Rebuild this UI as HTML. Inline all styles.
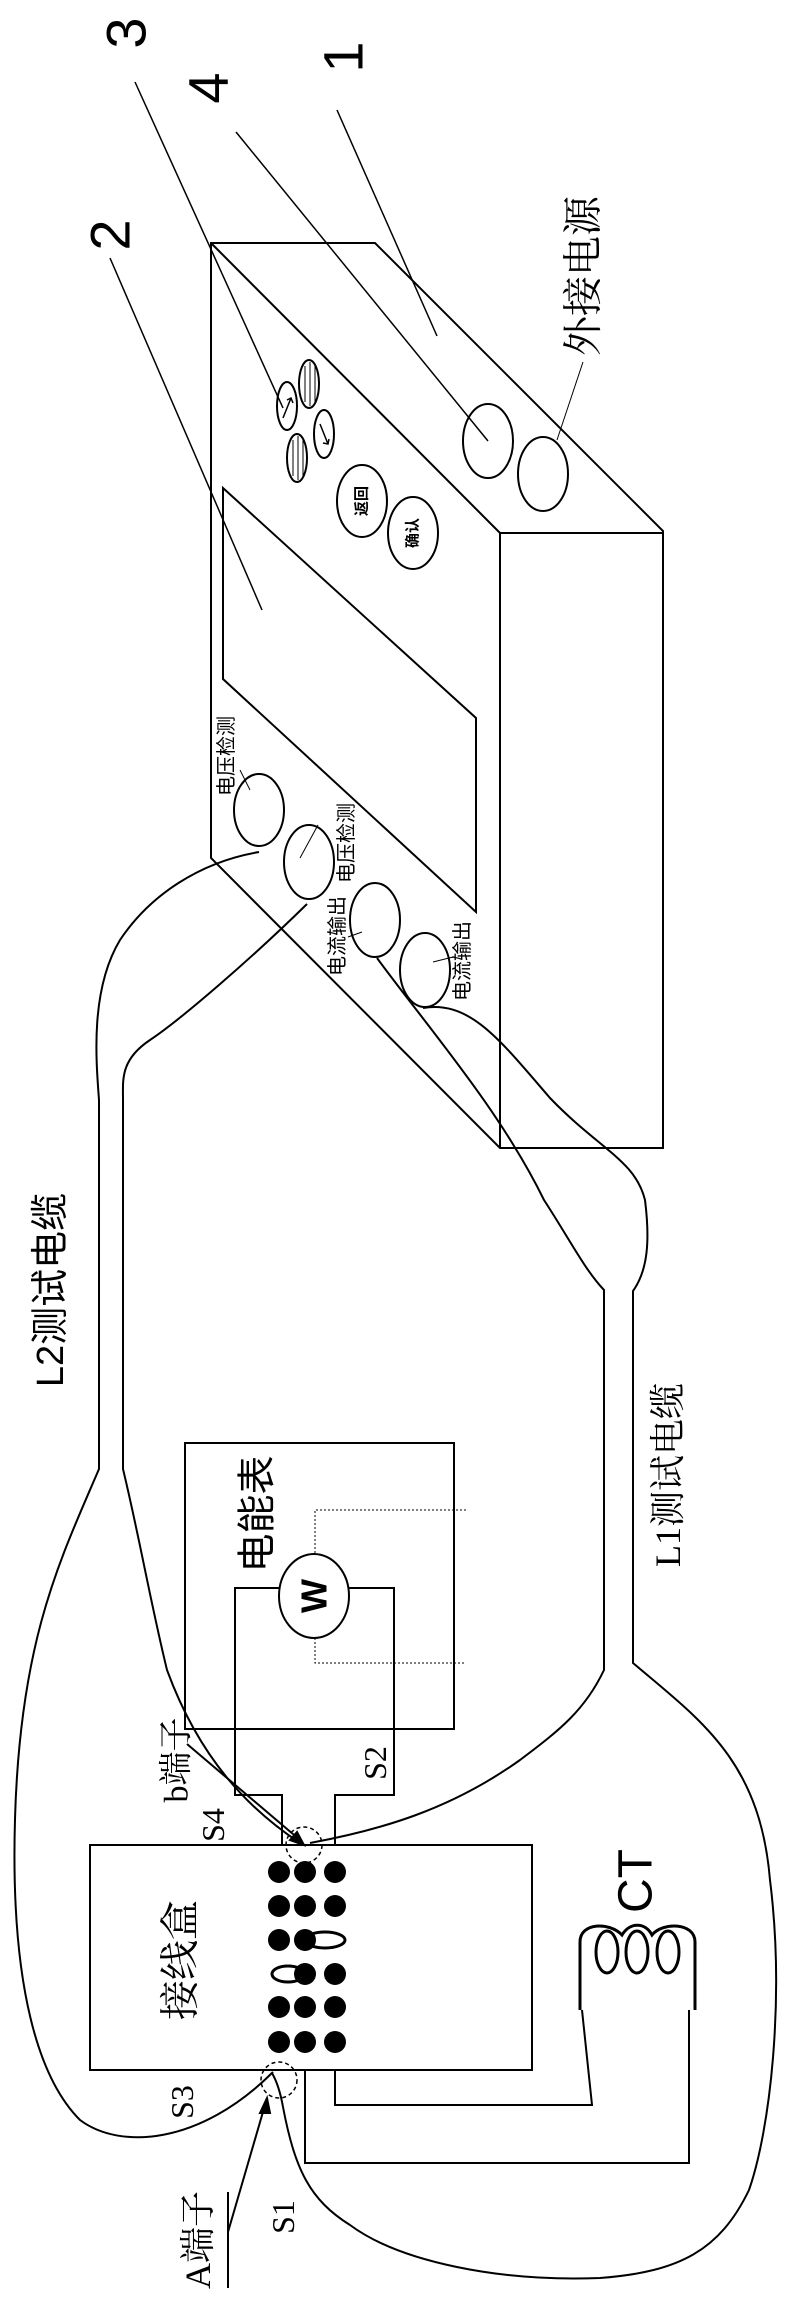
<!DOCTYPE html>
<html><head><meta charset="utf-8"><style>
html,body{margin:0;padding:0;background:#fff}
svg{display:block}
.s{font-family:"Liberation Sans","Noto Sans CJK SC",sans-serif}
.r{font-family:"Liberation Serif","Noto Serif CJK SC",serif}
</style></head><body>
<svg width="790" height="2309" viewBox="0 0 790 2309" xmlns="http://www.w3.org/2000/svg">
<g fill="none" stroke="#000" stroke-width="2">
<!-- instrument box -->
<polygon points="211,243 375,243 663,531 663,1148 500,1148 211,858"/>
<line x1="211" y1="243" x2="500" y2="533"/>
<line x1="500" y1="533" x2="663" y2="533"/>
<line x1="500" y1="533" x2="500" y2="1148"/>
<!-- screen -->
<polygon points="223,488 476,718 476,912 223,679"/>
<!-- leaders -->
<line x1="135" y1="82" x2="283" y2="408" stroke-width="1.5"/>
<line x1="236" y1="132" x2="488" y2="441" stroke-width="1.5"/>
<line x1="337" y1="110" x2="437" y2="336" stroke-width="1.5"/>
<line x1="110" y1="258" x2="262" y2="610" stroke-width="1.5"/>
<line x1="583" y1="362" x2="557" y2="440" stroke-width="1"/>
<!-- buttons -->
<ellipse cx="287" cy="406" rx="10" ry="24"/>
<ellipse cx="309" cy="384" rx="10" ry="24"/>
<ellipse cx="297" cy="458" rx="10" ry="24"/>
<ellipse cx="324" cy="434" rx="10" ry="24"/>
<line x1="305" y1="366" x2="305" y2="402" stroke-width="1"/><line x1="310" y1="362" x2="310" y2="406" stroke-width="1"/><line x1="315" y1="366" x2="315" y2="402" stroke-width="1"/>
<line x1="293" y1="440" x2="293" y2="476" stroke-width="1"/><line x1="298" y1="436" x2="298" y2="480" stroke-width="1"/><line x1="303" y1="440" x2="303" y2="476" stroke-width="1"/>
<path d="M283,418 L291,398 M287,400 L291,398 L293,403" stroke-width="1.5"/>
<path d="M320,424 L328,444 M323,443 L328,444 L329,439" stroke-width="1.5"/>
<ellipse cx="362" cy="501" rx="25" ry="36"/>
<ellipse cx="413" cy="533" rx="25" ry="36"/>
<ellipse cx="488" cy="441" rx="25" ry="37"/>
<ellipse cx="543" cy="474" rx="25" ry="37"/>
<!-- ports -->
<ellipse cx="259" cy="810" rx="25" ry="36"/>
<ellipse cx="309" cy="862" rx="25" ry="37"/>
<ellipse cx="375" cy="920" rx="25" ry="37"/>
<ellipse cx="425" cy="970" rx="25" ry="37"/>
<line x1="240" y1="770" x2="250" y2="790" stroke-width="1"/>
<line x1="318" y1="825" x2="300" y2="858" stroke-width="1"/>
<line x1="348" y1="937" x2="362" y2="932" stroke-width="1"/>
<line x1="453" y1="957" x2="433" y2="962" stroke-width="1"/>
<!-- L2 cable -->
<path d="M259,852 C200,862 150,895 120,940 C90,990 96,1060 99,1100 L99,1469 C60,1560 20,1640 15,1819 C10,1990 40,2080 80,2120 C120,2150 200,2145 273,2072"/>
<path d="M307,904 C250,960 180,1020 150,1040 C120,1060 123,1080 123,1100 L123,1469 C140,1540 150,1600 167,1670 C200,1760 250,1810 300,1843"/>
<!-- L1 cable -->
<path d="M377,958 C430,1030 500,1110 544,1200 C570,1240 585,1270 604,1290 L604,1670 C585,1710 560,1730 520,1760 C450,1810 380,1830 310,1843"/>
<path d="M423,1008 C470,1000 500,1040 550,1098 C600,1150 635,1160 645,1200 C650,1240 648,1270 633,1291 L633,1663 C700,1720 760,1760 770,1880 C785,2000 770,2130 749,2190 C720,2250 680,2272 600,2278 C500,2282 400,2262 350,2225 C310,2200 295,2170 283,2107 C280,2090 276,2080 272,2073"/>
<!-- meter -->
<rect x="185" y="1443" width="269" height="286"/>
<ellipse cx="314" cy="1596" rx="35" ry="42"/>
<path d="M279,1588 H235 V1795 H282 V1845"/>
<path d="M349,1588 H394 V1795 H335 V1845"/>
<path d="M466,1510 H315 V1554 M315,1638 V1663 H466" stroke-width="1" stroke-dasharray="2,2"/>
<!-- junction box -->
<rect x="90" y="1845" width="442" height="225"/>
<path d="M305,2070 V2163 H689 V2010"/>
<path d="M335,2070 V2105 H592 L582,2010"/>
<circle cx="304" cy="1845" r="18" stroke-dasharray="4,3" stroke-width="1.5"/>
<circle cx="279" cy="2080" r="18" stroke-dasharray="4,3" stroke-width="1.5"/>
<!-- b arrow -->
<line x1="187" y1="1744" x2="300" y2="1840"/>
<polygon points="304,1845 290,1840 297,1832" fill="#000"/>
<!-- A -->
<line x1="228" y1="2192" x2="228" y2="2288"/>
<line x1="228" y1="2232" x2="265" y2="2105"/>
<polygon points="267,2098 260,2113 270,2113" fill="#000"/>
<!-- CT coil -->
<path d="M580,2010 V1942 C580,1922 610,1922 622,1935 C630,1922 645,1922 652,1935 C662,1922 695,1922 695,1942 V2010" stroke-width="3"/>
<ellipse cx="607" cy="1952" rx="11" ry="21" stroke-width="3"/>
<ellipse cx="637" cy="1952" rx="11" ry="21" stroke-width="3"/>
<ellipse cx="668" cy="1952" rx="11" ry="21" stroke-width="3"/>
</g>
<!-- dots -->
<g fill="#000">
<circle cx="279" cy="1872" r="11"/><circle cx="305" cy="1872" r="11"/><circle cx="335" cy="1872" r="11"/>
<circle cx="279" cy="1906" r="11"/><circle cx="305" cy="1906" r="11"/><circle cx="335" cy="1906" r="11"/>
<circle cx="279" cy="1940" r="11"/><circle cx="305" cy="1940" r="11"/>
<circle cx="305" cy="1974" r="11"/><circle cx="335" cy="1974" r="11"/>
<circle cx="279" cy="2007" r="11"/><circle cx="305" cy="2007" r="11"/><circle cx="335" cy="2007" r="11"/>
<circle cx="279" cy="2042" r="11"/><circle cx="305" cy="2042" r="11"/><circle cx="335" cy="2042" r="11"/>
</g>
<ellipse cx="325" cy="1940" rx="20" ry="8" fill="none" stroke="#000" stroke-width="3"/>
<ellipse cx="288" cy="1974" rx="16" ry="8" fill="none" stroke="#000" stroke-width="3"/>
<!-- text -->
<g fill="#000" text-anchor="middle" dominant-baseline="central">
<text class="s" font-size="56" transform="translate(126,33) rotate(-90)">3</text>
<text class="s" font-size="56" transform="translate(208,88) rotate(-90)">4</text>
<text class="s" font-size="56" transform="translate(343,57) rotate(-90)">1</text>
<text class="s" font-size="56" transform="translate(110,235) rotate(-90)">2</text>
<text class="r" font-size="40" transform="translate(583,276) rotate(-90)">外接电源</text>
<text class="s" font-size="15" font-weight="bold" transform="translate(362,501) rotate(-90)">返回</text>
<text class="s" font-size="15" font-weight="bold" transform="translate(413,533) rotate(-90)">确认</text>
<text class="s" font-size="20" transform="translate(227,756) rotate(-90)">电压检测</text>
<text class="s" font-size="20" transform="translate(347,843) rotate(-90)">电压检测</text>
<text class="s" font-size="20" transform="translate(338,936) rotate(-90)">电流输出</text>
<text class="s" font-size="20" transform="translate(463,961) rotate(-90)">电流输出</text>
<text class="s" font-size="38" transform="translate(51,1290) rotate(-90)">L2测试电缆</text>
<text class="r" font-size="36" transform="translate(668,1475) rotate(-90)">L1测试电缆</text>
<text class="s" font-size="39" transform="translate(258,1514) rotate(-90)">电能表</text>
<text class="s" font-size="36" font-weight="bold" transform="translate(314,1596) rotate(-90)">W</text>
<text class="r" font-size="40" transform="translate(180,1960) rotate(-90)">接线盒</text>
<text class="s" font-size="48" transform="translate(636,1881) rotate(-90)">CT</text>
<text class="r" font-size="34" transform="translate(177,1760) rotate(-90)">b端子</text>
<text class="r" font-size="32" transform="translate(213,1825) rotate(-90)">S4</text>
<text class="r" font-size="32" transform="translate(375,1763) rotate(-90)">S2</text>
<text class="r" font-size="32" transform="translate(182,2102) rotate(-90)">S3</text>
<text class="r" font-size="32" transform="translate(283,2217) rotate(-90)">S1</text>
<text class="r" font-size="36" transform="translate(198,2240) rotate(-90)">A端子</text>
</g>
</svg>
</body></html>
